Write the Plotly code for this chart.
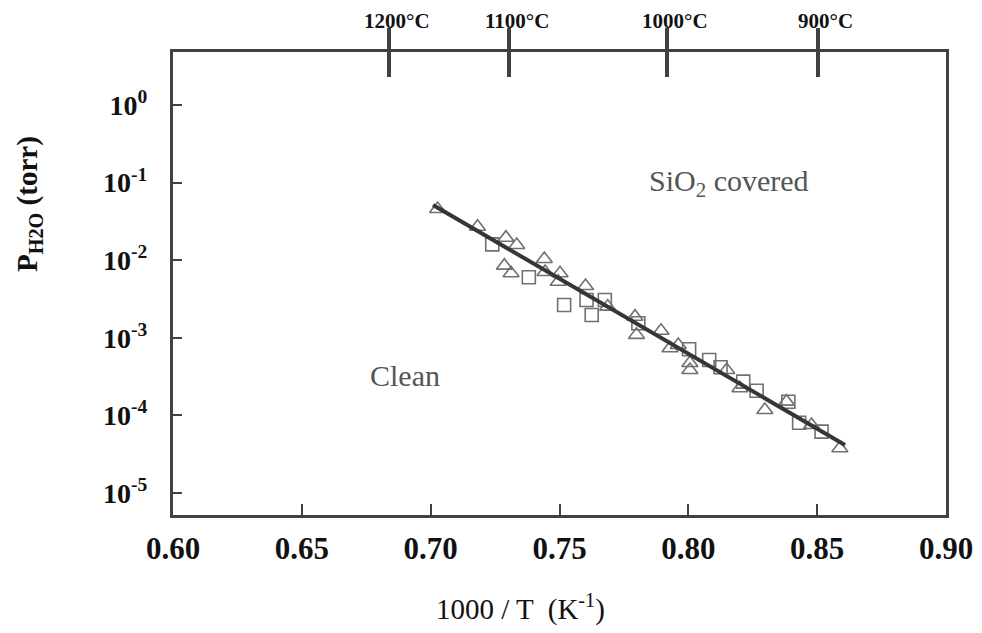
import math
import plotly.graph_objects as go

# ---- data ----
tri_x = [0.7027, 0.7182, 0.7292, 0.7334, 0.7286, 0.7312, 0.7441, 0.7444, 0.7502, 0.7495,
         0.7601, 0.7687, 0.7793, 0.7799, 0.7894, 0.7929, 0.7961, 0.8006, 0.8006, 0.8149,
         0.8200, 0.8297, 0.8381, 0.8478, 0.8588]
tri_y = [0.0457, 0.0270, 0.0195, 0.0157, 0.00850, 0.00678, 0.01036, 0.00705, 0.00678, 0.00528,
         0.00465, 0.00252, 0.00187, 0.00109, 0.00123, 0.000732, 0.000808, 0.000473, 0.000385, 0.000385,
         0.000224, 0.0001174, 0.0001502, 7.52e-5, 3.77e-5]

sq_x = [0.7239, 0.7381, 0.7518, 0.7605, 0.7625, 0.7676, 0.7806, 0.8003, 0.8081, 0.8125,
        0.8213, 0.8265, 0.8388, 0.8430, 0.8517]
sq_y = [0.0160, 0.00602, 0.00265, 0.00307, 0.00197, 0.00307, 0.00154, 0.000711, 0.000518, 0.000417,
        0.000272, 0.000208, 0.000150, 8.05e-5, 6.17e-5]

fit_x = [0.7009, 0.8608]
fit_y = [0.0514, 4.16e-5]

x_ticks = [0.60, 0.65, 0.70, 0.75, 0.80, 0.85, 0.90]
x_ticktext = ["0.60", "0.65", "0.70", "0.75", "0.80", "0.85", "0.90"]
y_ticks = [1, 1e-1, 1e-2, 1e-3, 1e-4, 1e-5]
y_ticktext = ["10<sup>0</sup>", "10<sup>-1</sup>", "10<sup>-2</sup>",
              "10<sup>-3</sup>", "10<sup>-4</sup>", "10<sup>-5</sup>"]

top_tick_x = [0.6838, 0.7305, 0.7919, 0.8502]
top_labels = ["1200°C", "1100°C", "1000°C", "900°C"]

region_labels = ["SiO<sub>2</sub> covered", "Clean"]
region_x = [0.8158, 0.690]
region_y = [0.0988, 3.22e-4]

# ---- styling ----
SERIF = "Liberation Serif"
DARK = "#444040"
MARK = "#707070"
xr = [0.60, 0.90]

fig = go.Figure()

fig.add_trace(go.Scatter(x=tri_x, y=tri_y, mode="markers",
                         marker=dict(symbol="triangle-up-open", size=14,
                                     color=MARK, line=dict(width=1.6, color=MARK)),
                         showlegend=False, hoverinfo="skip"))
fig.add_trace(go.Scatter(x=sq_x, y=sq_y, mode="markers",
                         marker=dict(symbol="square-open", size=13,
                                     color=MARK, line=dict(width=1.6, color=MARK)),
                         showlegend=False, hoverinfo="skip"))
fig.add_trace(go.Scatter(x=fit_x, y=fit_y, mode="lines",
                         line=dict(color="#3a3434", width=4),
                         showlegend=False, hoverinfo="skip"))

# invisible traces to anchor the top tick axes
fig.add_trace(go.Scatter(x=top_tick_x, y=[None] * len(top_tick_x), xaxis="x2",
                         showlegend=False, hoverinfo="skip"))
fig.add_trace(go.Scatter(x=top_tick_x, y=[None] * len(top_tick_x), xaxis="x3",
                         showlegend=False, hoverinfo="skip"))

# page body has an 8px margin, so the figure is offset by 8px
fig.update_layout(
    width=982, height=633,
    margin=dict(l=165, r=44, t=44, b=126),
    paper_bgcolor="white", plot_bgcolor="white",
    xaxis=dict(range=xr, tickvals=x_ticks, ticktext=x_ticktext,
               ticks="inside", ticklen=11, tickwidth=2, tickcolor=DARK,
               showline=True, linewidth=3, linecolor=DARK, mirror=True,
               showgrid=False, zeroline=False,
               tickfont=dict(family=SERIF, size=31, color="#111", weight="bold"),
               ticklabelstandoff=4),
    yaxis=dict(type="log", range=[-5.284, 0.683], tickvals=y_ticks, ticktext=y_ticktext,
               ticks="inside", ticklen=9, tickwidth=2, tickcolor=DARK,
               showline=True, linewidth=3, linecolor=DARK, mirror=True,
               showgrid=False, zeroline=False,
               tickfont=dict(family=SERIF, size=28, color="#111", weight="bold"),
               ticklabelstandoff=17),
    xaxis2=dict(overlaying="x", side="top", anchor="y", range=xr,
                tickvals=top_tick_x, showticklabels=False,
                ticks="outside", ticklen=23, tickwidth=4, tickcolor=DARK,
                showline=False, showgrid=False, zeroline=False),
    xaxis3=dict(overlaying="x", side="top", anchor="y", range=xr,
                tickvals=top_tick_x, showticklabels=False,
                ticks="inside", ticklen=25, tickwidth=4, tickcolor=DARK,
                showline=False, showgrid=False, zeroline=False),
)

annotations = []
for tx, lab in zip(top_tick_x, top_labels):
    annotations.append(dict(x=tx, y=1.067, xref="x", yref="paper", text=lab,
                            showarrow=False, xanchor="center", yanchor="middle", xshift=8,
                            font=dict(family=SERIF, size=21, color="#111", weight="bold")))
for rx, ry, lab in zip(region_x, region_y, region_labels):
    annotations.append(dict(x=rx, y=math.log10(ry), xref="x", yref="y", text=lab,
                            showarrow=False, xanchor="center", yanchor="middle",
                            font=dict(family=SERIF, size=30, color="#555")))
annotations.append(dict(x=0.449, y=-0.199, xref="paper", yref="paper",
                        text="1000 / T  (K<sup>-1</sup>)", showarrow=False,
                        xanchor="center", yanchor="middle",
                        font=dict(family=SERIF, size=29, color="#111")))
annotations.append(dict(x=-0.186, y=0.672, xref="paper", yref="paper",
                        text="P<sub>H2O</sub> (torr)", showarrow=False, textangle=-90,
                        xanchor="center", yanchor="middle",
                        font=dict(family=SERIF, size=29, color="#111", weight="bold")))
fig.update_layout(annotations=annotations)

fig.write_html("out.html")
